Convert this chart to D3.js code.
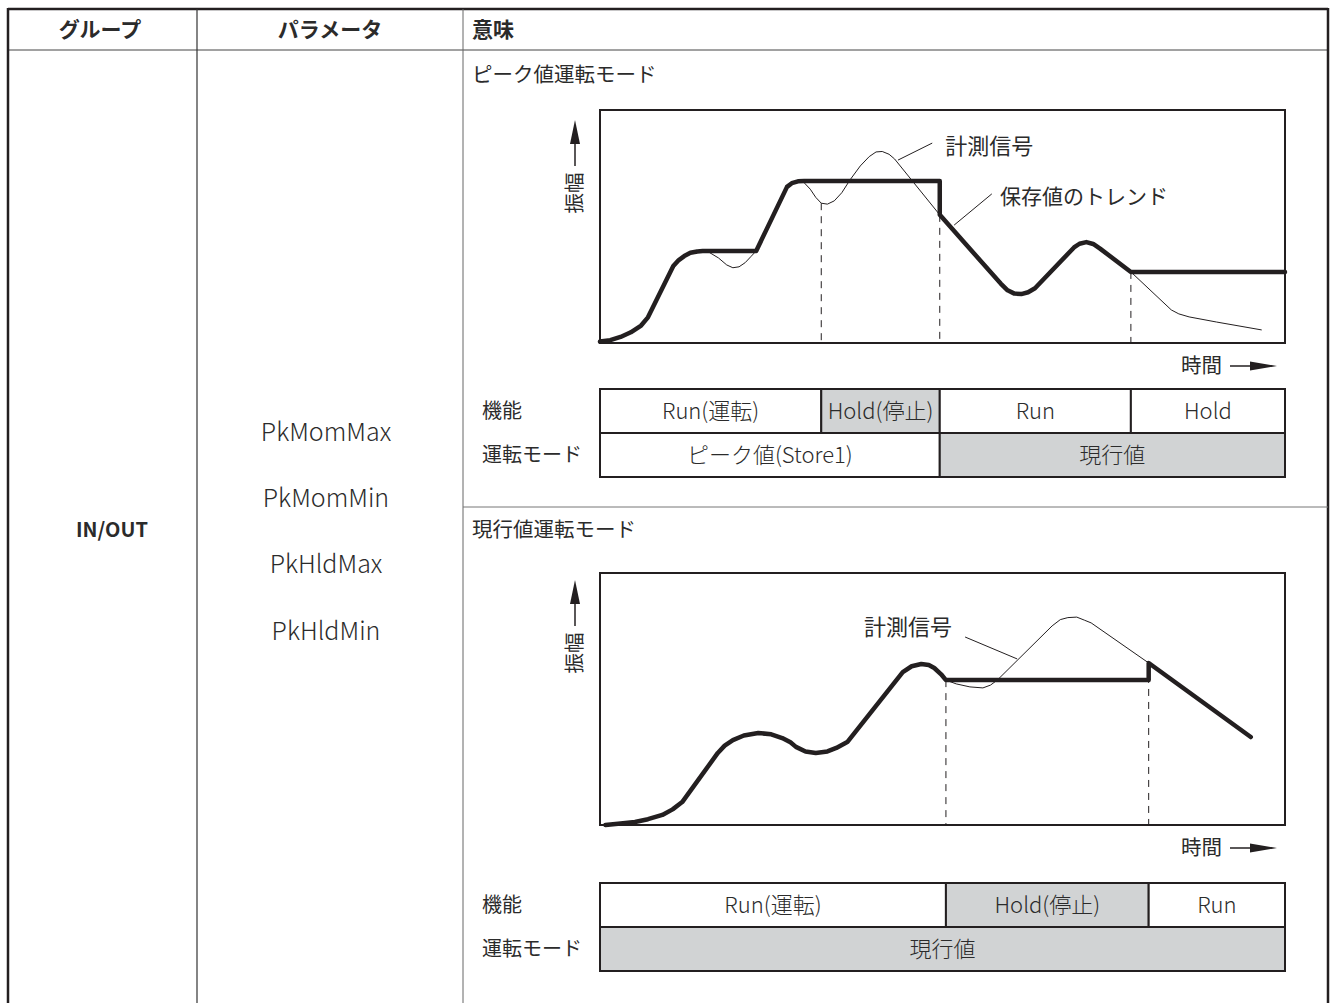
<!DOCTYPE html>
<html>
<head>
<meta charset="utf-8">
<script src="https://cdn.jsdelivr.net/npm/d3@7"></script>
<style>
  body { margin: 0; background: #fff; }
  text { font-family: "Noto Sans CJK JP", "Noto Sans", sans-serif; fill: #2b2b2b; }
</style>
</head>
<body>
<script>
// table text
var headers = ["グループ", "パラメータ", "意味"];
var groupName = "IN/OUT";
var params = ["PkMomMax", "PkMomMin", "PkHldMax", "PkHldMin"];
var modeTitles = ["ピーク値運転モード", "現行値運転モード"];
var rowLabels = ["機能", "運転モード"];

// peak value mode: [time, amplitude] (0..100 units)
var peakSignal = [[0,0.6],[1.5,1.2],[3,2.6],[4.5,4.6],[6,7.5],[7,11],[10.7,33],[11.5,35.6],[12.3,37.3],[13.2,38.7],[14.2,39.3],[15,39.4],
  [16,38.8],[17.3,36.5],[18.5,33.5],[19.4,32.3],[20.3,32.7],[21.2,34.5],[22,37],[22.8,39.5],[27.3,67],[28,68.6],[28.9,69.4],
  [29.8,68.8],[30.7,66],[31.5,62.5],[32.3,60],[33.2,59.6],[34.2,61],[35.3,64.5],[36.5,70],[38,76],[39.3,80],[40.3,82],[41.2,82.2],[42.2,81],[43,79],
  [49.6,55],[58.5,25.5],[59.5,22.6],[60.5,21.2],[61.5,21],[62.5,21.8],[63.5,23.5],[69.2,41],[70,42.6],[71,43.3],[72,42.5],[73,40.5],[77.5,30.5],
  [83.4,14.2],[84.5,12.5],[86,11.2],[90,9],[96.6,5.6]];
var peakStored = [[0,0.6],[1.5,1.2],[3,2.6],[4.5,4.6],[6,7.5],[7,11],[10.7,33],[11.5,35.6],[12.3,37.3],[13.2,38.7],[14.2,39.3],[15,39.5],
  [22.8,39.5],[27.3,67],[28,68.6],[28.9,69.4],[29.8,69.5],[49.6,69.5],[49.6,55],[58.5,25.5],[59.5,22.6],[60.5,21.2],[61.5,21],[62.5,21.8],[63.5,23.5],
  [69.2,41],[70,42.6],[71,43.3],[72,42.5],[73,40.5],[77.5,30.5],[100,30.5]];
var peakDashes = [[32.3,60],[49.6,55],[77.5,30.5]];
var peakFunc = [["Run(運転)",0,32.3,false],["Hold(停止)",32.3,49.6,true],["Run",49.6,77.5,false],["Hold",77.5,100,false]];
var peakMode = [["ピーク値(Store1)",0,49.6,false],["現行値",49.6,100,true]];

// current value mode
var curSignal = [[0.8,0],[3,0.6],[5.1,1.2],[7,2.3],[9.1,4],[10.6,6.2],[12,9.1],[17.2,28.6],[18.2,31.5],[19.4,33.7],[21,35.5],[23.1,36.5],[25,36],
  [26.6,34.5],[27.8,32.8],[28.6,31],[30,29.2],[31.5,28.6],[33.2,29.2],[34.5,30.6],[36.1,32.9],[44.2,60.7],[45.5,63],[46.9,63.9],[48,63.5],[48.8,62.3],
  [49.8,59.8],[50.5,57.5],[52,56],[54,54.8],[55.9,54.4],[57,55.5],[58,57.5],[66,79],[67.2,81.5],[68.3,82.3],[69.6,82.5],[70.7,81.3],[71.7,80.2],
  [80.1,64.3],[95,34.9]];
var curStored = [[0.8,0],[3,0.6],[5.1,1.2],[7,2.3],[9.1,4],[10.6,6.2],[12,9.1],[17.2,28.6],[18.2,31.5],[19.4,33.7],[21,35.5],[23.1,36.5],[25,36],
  [26.6,34.5],[27.8,32.8],[28.6,31],[30,29.2],[31.5,28.6],[33.2,29.2],[34.5,30.6],[36.1,32.9],[44.2,60.7],[45.5,63],[46.9,63.9],[48,63.5],[48.8,62.3],
  [49.8,59.8],[50.5,57.5],[80.1,57.5],[80.1,64.3],[95,34.9]];
var curDashes = [[50.5,57.5],[80.1,64.3]];
var curFunc = [["Run(運転)",0,50.5,false],["Hold(停止)",50.5,80.1,true],["Run",80.1,100,false]];
var curMode = [["現行値",0,100,true]];

var W = 1332, H = 1003;
var ink = "#231f20", grayFill = "#d1d3d4";
var svg = d3.select("body").append("svg").attr("width", W).attr("height", H);

// ---- outer table ----
var colX = [8, 197, 463, 1328];
svg.append("line").attr("x1", colX[0]).attr("x2", colX[3]).attr("y1", 9).attr("y2", 9)
  .attr("stroke", ink).attr("stroke-width", 2.5);
svg.append("line").attr("x1", colX[0]).attr("x2", colX[3]).attr("y1", 50).attr("y2", 50)
  .attr("stroke", "#444").attr("stroke-width", 1);
[colX[0], colX[3]].forEach(function(x) {
  svg.append("line").attr("x1", x).attr("x2", x).attr("y1", 8).attr("y2", H)
    .attr("stroke", ink).attr("stroke-width", 2.5);
});
svg.append("line").attr("x1", colX[1]).attr("x2", colX[1]).attr("y1", 9).attr("y2", H)
  .attr("stroke", "#333").attr("stroke-width", 1.2);
svg.append("line").attr("x1", colX[2]).attr("x2", colX[2]).attr("y1", 9).attr("y2", H)
  .attr("stroke", "#666").attr("stroke-width", 1);
svg.append("line").attr("x1", colX[2]).attr("x2", colX[3]).attr("y1", 507).attr("y2", 507)
  .attr("stroke", "#777").attr("stroke-width", 1);

svg.append("text").attr("x", 100).attr("y", 30).attr("text-anchor", "middle").attr("dy", "0.35em")
  .style("font-size", "21px").style("font-weight", 700).text(headers[0]);
svg.append("text").attr("x", 330).attr("y", 30).attr("text-anchor", "middle").attr("dy", "0.35em")
  .style("font-size", "21px").style("font-weight", 700).text(headers[1]);
svg.append("text").attr("x", 472).attr("y", 30).attr("dy", "0.35em")
  .style("font-size", "21px").style("font-weight", 700).text(headers[2]);

svg.append("text").attr("x", 112).attr("y", 530).attr("text-anchor", "middle").attr("dy", "0.35em")
  .style("font-size", "20px").style("font-weight", 700).text(groupName);

var py = d3.scalePoint().domain(params).range([432, 631]);
svg.selectAll(".param").data(params).enter().append("text")
  .attr("class", "param")
  .attr("x", 326).attr("y", function(d) { return py(d); })
  .attr("text-anchor", "middle").attr("dy", "0.35em")
  .style("font-size", "25px").style("font-weight", 300)
  .text(function(d) { return d; });

// ---- mode panels ----
var x = d3.scaleLinear().domain([0, 100]).range([600, 1285]);

function panel(opt) {
  var y = d3.scaleLinear().domain([0, 100]).range([opt.bottom, opt.top]);
  var g = svg.append("g");

  g.append("text").attr("x", 472).attr("y", opt.titleY).attr("dy", "0.35em")
    .style("font-size", "20.5px").text(opt.title);

  g.append("rect").attr("x", x(0)).attr("y", y(100)).attr("width", x(100) - x(0)).attr("height", y(0) - y(100))
    .attr("fill", "none").attr("stroke", ink).attr("stroke-width", 2);

  // dashed drop lines
  g.selectAll(".dash").data(opt.dashes).enter().append("line")
    .attr("x1", function(d) { return x(d[0]); }).attr("x2", function(d) { return x(d[0]); })
    .attr("y1", function(d) { return y(d[1]); }).attr("y2", y(0))
    .attr("stroke", ink).attr("stroke-width", 1).attr("stroke-dasharray", "7,6");

  var line = d3.line().x(function(d) { return x(d[0]); }).y(function(d) { return y(d[1]); });
  g.append("path").attr("d", line(opt.signal)).attr("fill", "none")
    .attr("stroke", ink).attr("stroke-width", 1);
  g.append("path").attr("d", line(opt.stored)).attr("fill", "none")
    .attr("stroke", ink).attr("stroke-width", 4.5).attr("stroke-linejoin", "round").attr("stroke-linecap", "round");

  // callouts
  opt.notes.forEach(function(n) {
    g.append("line").attr("x1", x(n.from[0])).attr("y1", y(n.from[1]))
      .attr("x2", x(n.to[0])).attr("y2", y(n.to[1])).attr("stroke", ink).attr("stroke-width", 1);
    g.append("text").attr("x", x(n.at[0])).attr("y", y(n.at[1])).attr("dy", "0.35em")
      .attr("text-anchor", n.anchor).style("font-size", n.size).text(n.text);
  });

  // amplitude arrow
  var ax = 575, tip = y(100) + opt.arrowTip;
  g.append("line").attr("x1", ax).attr("x2", ax).attr("y1", tip + 20).attr("y2", tip + 46)
    .attr("stroke", ink).attr("stroke-width", 1.5);
  g.append("path").attr("d", "M" + ax + "," + tip + "L" + (ax - 5) + "," + (tip + 24) + "L" + (ax + 5) + "," + (tip + 24) + "Z")
    .attr("fill", ink);
  g.append("text").attr("transform", "translate(" + ax + "," + (tip + 73) + ") rotate(-90)")
    .attr("text-anchor", "middle").attr("dy", "0.35em").style("font-size", "20.5px").text("振幅");

  // time arrow
  var ty = y(0) + 23;
  g.append("text").attr("x", 1222).attr("y", ty).attr("text-anchor", "end").attr("dy", "0.35em")
    .style("font-size", "20.5px").text("時間");
  g.append("line").attr("x1", 1230).attr("x2", 1256).attr("y1", ty).attr("y2", ty)
    .attr("stroke", ink).attr("stroke-width", 1.5);
  g.append("path").attr("d", "M1250," + (ty - 4.5) + "L1277," + ty + "L1250," + (ty + 4.5) + "Z").attr("fill", ink);

  // function / mode table
  var rows = [opt.func, opt.mode];
  rows.forEach(function(cells, i) {
    var y0 = opt.tableTop + i * opt.rowH;
    g.append("text").attr("x", 482).attr("y", y0 + opt.rowH / 2).attr("dy", "0.35em")
      .style("font-size", "20px").text(rowLabels[i]);
    var c = g.selectAll(".cell" + i).data(cells).enter().append("g");
    c.append("rect")
      .attr("x", function(d) { return x(d[1]); }).attr("y", y0)
      .attr("width", function(d) { return x(d[2]) - x(d[1]); }).attr("height", opt.rowH)
      .attr("fill", function(d) { return d[3] ? grayFill : "#fff"; })
      .attr("stroke", ink).attr("stroke-width", 2);
    c.append("text")
      .attr("x", function(d) { return (x(d[1]) + x(d[2])) / 2; }).attr("y", y0 + opt.rowH / 2)
      .attr("text-anchor", "middle").attr("dy", "0.35em").style("font-size", "22px").style("font-weight", 300)
      .text(function(d) { return d[0]; });
  });
}

panel({
  title: modeTitles[0], titleY: 75, top: 110, bottom: 343,
  signal: peakSignal, stored: peakStored, dashes: peakDashes, arrowTip: 10,
  notes: [
    { text: "計測信号", from: [43.5, 78.5], to: [48.5, 85.8], at: [50.4, 84.5], anchor: "start", size: "22px" },
    { text: "保存値のトレンド", from: [51.7, 50.6], to: [57.2, 64], at: [58.4, 63], anchor: "start", size: "21px" }
  ],
  func: peakFunc, mode: peakMode, tableTop: 389, rowH: 44
});

panel({
  title: modeTitles[1], titleY: 530, top: 573, bottom: 825,
  signal: curSignal, stored: curStored, dashes: curDashes, arrowTip: 7,
  notes: [
    { text: "計測信号", from: [53.3, 74.6], to: [60.9, 65.9], at: [51.4, 78.6], anchor: "end", size: "22px" }
  ],
  func: curFunc, mode: curMode, tableTop: 883, rowH: 44
});
</script>
</body>
</html>
